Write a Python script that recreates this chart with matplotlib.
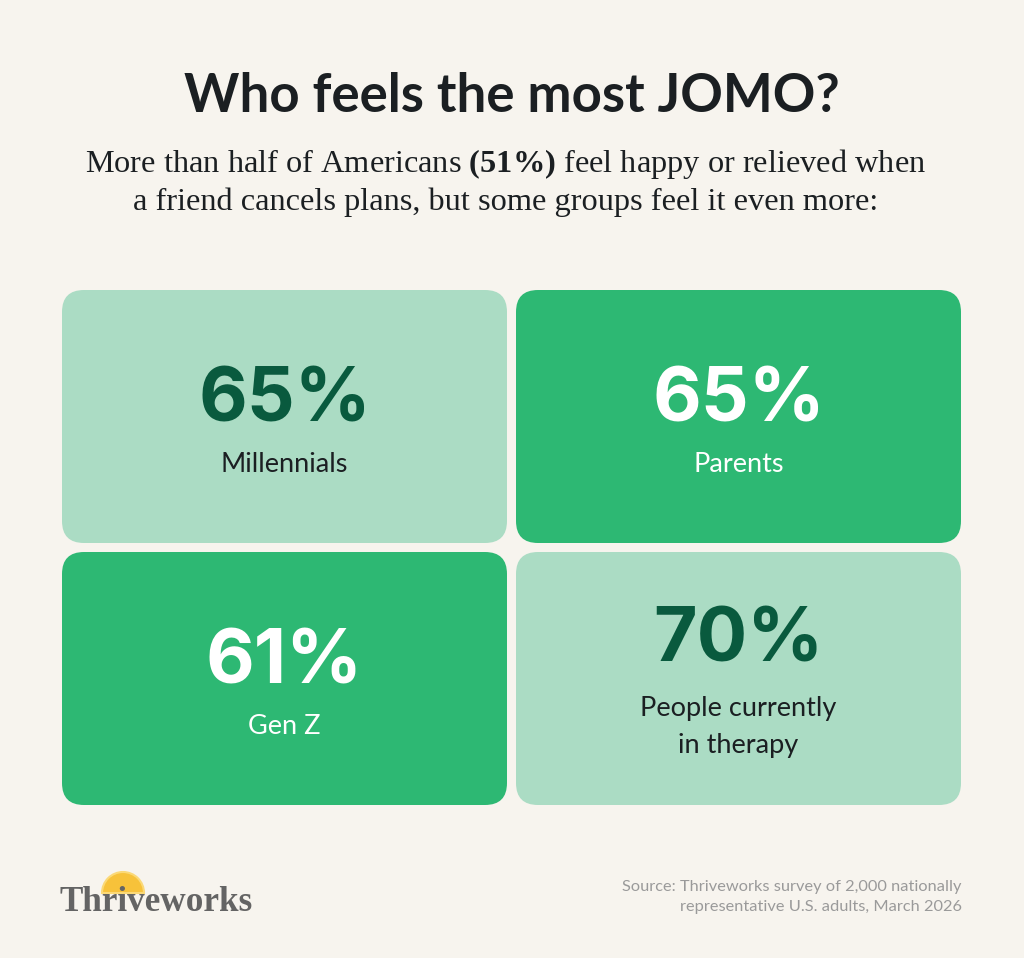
import matplotlib.pyplot as plt
from matplotlib.patches import FancyBboxPatch, Wedge

plt.rcParams['mathtext.fontset'] = 'custom'
plt.rcParams['mathtext.rm'] = 'Liberation Serif'
plt.rcParams['mathtext.bf'] = 'Liberation Serif:bold'

# data
groups = ['Millennials', 'Parents', 'Gen Z', 'People currently\nin therapy']
shares = [65, 65, 61, 70]
highlight = [False, True, True, False]
title = 'Who feels the most JOMO?'
subtitle = ('More than half of Americans $\\mathbf{(51\\%)}$ feel happy or relieved when\n'
            'a friend cancels plans, but some groups feel it even more:')
source = 'Source: Thriveworks survey of 2,000 nationally\nrepresentative U.S. adults, March 2026'

bg = '#f7f4ee'
light = '#abdcc4'
bright = '#2db873'
dark_text = '#095a3e'

fig = plt.figure(figsize=(10.24, 9.58), dpi=100, facecolor=bg)
ax = fig.add_axes([0, 0, 1, 1])
ax.set_xlim(0, 1024)
ax.set_ylim(958, 0)
ax.axis('off')

ax.text(512, 96, title, ha='center', va='center', fontsize=38,
        fontweight='bold', family='Lato', color='#1b1f22')
ax.text(506, 182, subtitle, ha='center', va='center', fontsize=23.3,
        family='Liberation Serif', color='#1b1f22', linespacing=1.3)

# 2x2 grid of cards
x0, y0 = 62, 290
w, h = 445, 253
gap = 9
for i, (g, s, hl) in enumerate(zip(groups, shares, highlight)):
    r, c = divmod(i, 2)
    x = x0 + c * (w + gap)
    y = y0 + r * (h + gap)
    ax.add_patch(FancyBboxPatch((x + 22, y + 22), w - 44, h - 44,
                                boxstyle='round,pad=22',
                                facecolor=bright if hl else light,
                                edgecolor='none'))
    num_col = 'white' if hl else dark_text
    lab_col = 'white' if hl else '#1b1f22'
    cy = y + h / 2
    if '\n' in g:
        nb, lb = cy - 17.5, cy + 37.5
    else:
        nb, lb = cy + 4.5, cy + 55.5
    ax.text(x + w / 2, nb, f'{s}%', ha='center', va='baseline', fontsize=54,
            fontweight='bold', family='Inter', color=num_col)
    lines = g.split('\n')
    for k, line in enumerate(lines):
        ax.text(x + w / 2, lb + 37 * k, line, ha='center', va='baseline',
                fontsize=19.5, family='Lato', color=lab_col)

# logo
ax.add_patch(Wedge((123, 893), 21, 180, 360, facecolor='#f7c23a',
                   edgecolor='#fbd977', lw=1.5))
ax.text(60, 911, 'Thriveworks', ha='left', va='baseline', fontsize=25.3,
        fontweight='bold', family='Liberation Serif', color='#646464')

ax.text(962, 897, source, ha='right', va='center', fontsize=11.8,
        family='Lato', color='#9a9a9a', linespacing=1.55)

fig.savefig('out.png', dpi=100, facecolor=bg)
